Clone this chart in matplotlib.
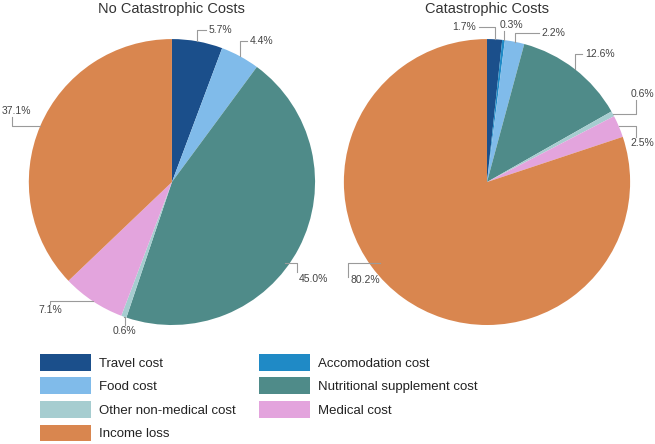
import matplotlib.pyplot as plt
from matplotlib.patches import Patch
import numpy as np

plt.rcParams['font.family'] = ['Liberation Sans', 'DejaVu Sans']

# Cost categories (wedge order, clockwise from 12 o'clock)
categories = ['Travel cost', 'Accomodation cost', 'Food cost',
              'Nutritional supplement cost', 'Other non-medical cost',
              'Medical cost', 'Income loss']
colors = ['#1b4f8b', '#1f8ac6', '#80bbea', '#4f8b89', '#a6cdd0',
          '#e3a4dd', '#d9864f']

# Share of costs (%)
no_cat = [5.7, 0.0, 4.4, 45.0, 0.6, 7.1, 37.1]
cat = [1.7, 0.3, 2.2, 12.6, 0.6, 2.5, 80.2]

# leader line layout: end point (pie-radius units), elbow style,
# text alignment, text offset (points), anchor tweak (radius, degrees)
no_cat_lbl = [
    ((0.238, 1.063), 'h', 'left', 'center', (2, 0), (1, 0)),
    None,
    ((0.524, 0.986), 'h', 'left', 'center', (2, 0), (1, 0)),
    ((0.874, -0.629), 'v', 'left', 'top', (1, -1.5), (0.97, -8)),
    ((-0.33, -1.0), 'v', 'center', 'top', (0, -1), (1, 0)),
    ((-0.853, -0.853), 'v', 'center', 'top', (0, -1), (1, 0)),
    ((-1.119, 0.455), 'v', 'left', 'bottom', (-7, 1), (1, 0)),
]
cat_lbl = [
    ((-0.056, 1.084), 'h', 'right', 'center', (-2, 0), (1, 0)),
    ((0.116, 1.056), 'v', 'left', 'bottom', (-3, 1), (1, 0)),
    ((0.364, 1.042), 'h', 'left', 'center', (2, 0), (1, 0)),
    ((0.664, 0.895), 'h', 'left', 'center', (2, 0), (1, 0)),
    ((1.042, 0.573), 'v', 'center', 'bottom', (4.5, 1), (1, 0)),
    ((1.042, 0.315), 'v', 'center', 'top', (4.5, -1), (1, 0)),
    ((-0.972, -0.664), 'v', 'left', 'center', (2, -2), (0.94, -17)),
]

fig = plt.figure(figsize=(6.55, 4.44), dpi=100)


def draw_pie(rect, values, title, labels):
    ax = fig.add_axes(rect)
    ax.pie(values, colors=colors, startangle=90, counterclock=False,
           radius=1, wedgeprops=dict(linewidth=0))
    ax.set_xlim(-1, 1)
    ax.set_ylim(-1, 1)
    ax.set_aspect('auto')
    ax.axis('off')
    ax.set_title(title, fontsize=10.5, color='#333333', pad=19)

    total = sum(values)
    start = 0
    for v, lbl in zip(values, labels):
        mid = start + v / 2
        start += v
        if v == 0 or lbl is None:
            continue
        (ex, ey), style, ha, va, off, (ra, da) = lbl
        ang = np.deg2rad(90 - mid / total * 360 + da)
        xa, ya = ra * np.cos(ang), ra * np.sin(ang)
        if style == 'h':
            xs, ys = [xa, xa, ex], [ya, ey, ey]
        else:
            xs, ys = [xa, ex, ex], [ya, ya, ey]
        ax.plot(xs, ys, color='#9a9a9a', lw=0.8, clip_on=False)
        ax.annotate(f'{v:.1f}%', xy=(ex, ey), xytext=off,
                    textcoords='offset points', fontsize=7.5,
                    color='#444444', ha=ha, va=va, annotation_clip=False)
    return ax


draw_pie([0.044, 0.268, 0.437, 0.644], no_cat, 'No Catastrophic Costs',
         no_cat_lbl)
draw_pie([0.525, 0.268, 0.437, 0.644], cat, 'Catastrophic Costs', cat_lbl)

# legend filled column by column
order = [0, 2, 4, 6, 1, 3, 5]
handles = [Patch(facecolor=colors[i], label=categories[i]) for i in order]
fig.legend(handles=handles, ncol=2, loc='upper left',
           bbox_to_anchor=(0.061, 0.203), frameon=False, fontsize=9.5,
           handlelength=3.85, handleheight=1.6, handletextpad=0.6,
           labelspacing=0.5, columnspacing=1.8, borderpad=0,
           borderaxespad=0, labelcolor='#222222')

fig.savefig('out.png', dpi=100)
